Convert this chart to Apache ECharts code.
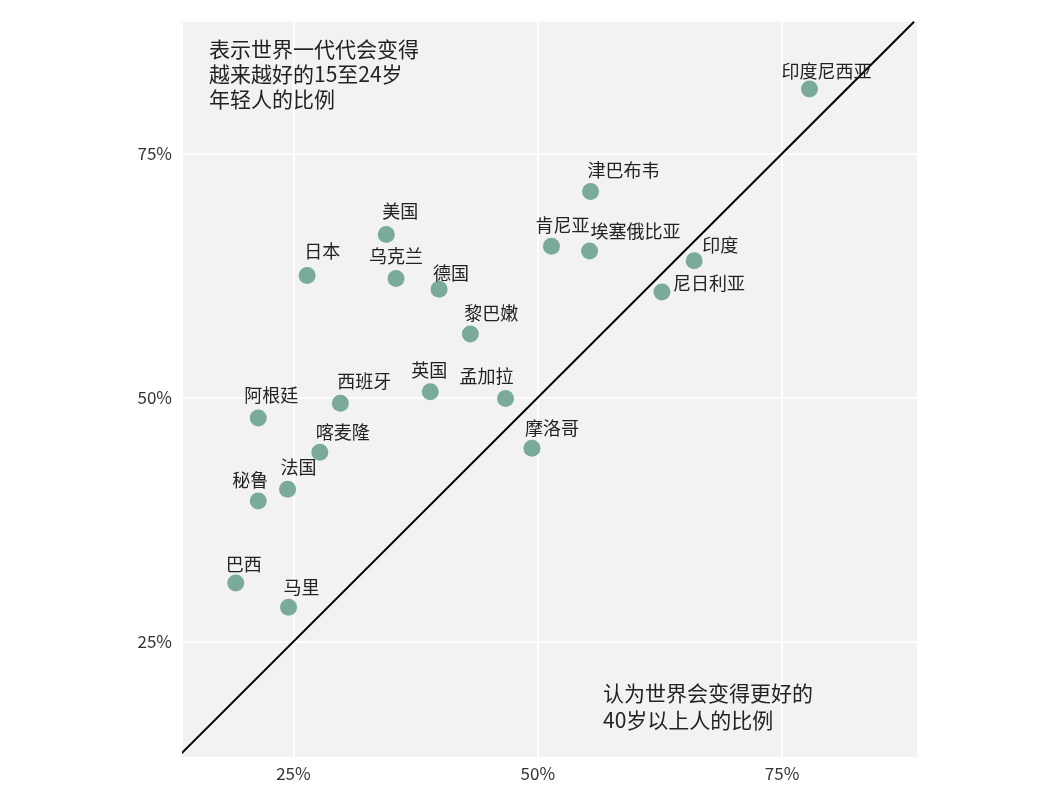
<!DOCTYPE html>
<html>
<head>
<meta charset="utf-8">
<script src="https://cdn.jsdelivr.net/npm/echarts@6/dist/echarts.min.js"></script>
<style>
html,body{margin:0;padding:0;background:#fff;}
#chart{width:1050px;height:801px;}
</style>
</head>
<body>
<div id="chart"></div>
<script>
// ---- data ----
const countries = ['印度尼西亚','津巴布韦','肯尼亚','埃塞俄比亚','印度','尼日利亚','美国','日本','乌克兰','德国','黎巴嫩','英国','孟加拉','西班牙','阿根廷','喀麦隆','摩洛哥','法国','秘鲁','巴西','马里'];
const over40 = [77.8, 55.4, 51.4, 55.3, 66.0, 62.7, 34.5, 26.4, 35.5, 39.9, 43.1, 39.0, 46.7, 29.8, 21.4, 27.7, 49.4, 24.4, 21.4, 19.1, 24.5];
const youth  = [81.6, 71.1, 65.5, 65.0, 64.0, 60.8, 66.7, 62.5, 62.2, 61.1, 56.5, 50.6, 49.9, 49.4, 47.9, 44.4, 44.8, 40.6, 39.4, 31.0, 28.5];
const tickValues = [25, 50, 75];
const xRange = [13.7, 88.8];
const yRange = [13.2, 88.5];
const diagonal = [[13.2, 13.2], [88.5, 88.5]];
const yAnnotation = '表示世界一代代会变得\n越来越好的15至24岁\n年轻人的比例';
const xAnnotation = '认为世界会变得更好的\n40岁以上人的比例';
// label offsets (style)
const labelOffsets = [[17,-18],[33,-21],[11,-21],[46,-20],[26,-16],[47,-9],[14,-23],[15,-24],[0,-22],[12,-16],[21,-21],[-1,-21],[-19,-22],[24,-22],[13,-23],[23,-20],[20,-20],[11,-22],[-8,-21],[8,-19],[13,-20]];

const FONT = '"Noto Sans CJK SC", "Noto Sans", sans-serif';
const chart = echarts.init(document.getElementById('chart'));
const scatterData = countries.map((c, i) => ({
  name: c,
  value: [over40[i], youth[i]],
  label: { offset: labelOffsets[i] }
}));

const axisCommon = {
  type: 'value',
  axisLine: { show: false },
  axisTick: { show: false, customValues: tickValues },
  axisLabel: { customValues: tickValues, formatter: '{value}%', color: '#333', fontSize: 17, fontFamily: FONT },
  splitLine: { show: true, lineStyle: { color: '#ffffff', width: 2 } }
};

chart.setOption({
  backgroundColor: '#ffffff',
  animation: false,
  grid: { left: 183, right: 133, top: 21.7, bottom: 44.3, show: true, backgroundColor: '#f2f2f2', borderWidth: 0 },
  xAxis: Object.assign({}, axisCommon, { min: xRange[0], max: xRange[1], axisLabel: Object.assign({}, axisCommon.axisLabel, { margin: 8 }) }),
  yAxis: Object.assign({}, axisCommon, { min: yRange[0], max: yRange[1], axisLabel: Object.assign({}, axisCommon.axisLabel, { margin: 11, padding: [6, 0, 0, 0] }) }),
  series: [
    {
      type: 'line',
      data: diagonal,
      symbol: 'none',
      lineStyle: { color: '#000', width: 2 },
      z: 2,
      silent: true
    },
    {
      type: 'scatter',
      data: scatterData,
      symbolSize: 17,
      itemStyle: { color: '#7aaa9c', opacity: 1 },
      z: 3,
      label: {
        show: true,
        position: 'inside',
        align: 'center',
        verticalAlign: 'middle',
        formatter: '{b}',
        color: '#222',
        fontSize: 18,
        fontFamily: FONT
      }
    }
  ],
  graphic: [
    { type: 'text', left: 209, top: 37, z: 10, style: { text: yAnnotation, fill: '#222', fontSize: 21, lineHeight: 25, fontFamily: FONT } },
    { type: 'text', left: 603, top: 680, z: 10, style: { text: xAnnotation, fill: '#222', fontSize: 21, lineHeight: 27, fontFamily: FONT } }
  ]
});
</script>
</body>
</html>
